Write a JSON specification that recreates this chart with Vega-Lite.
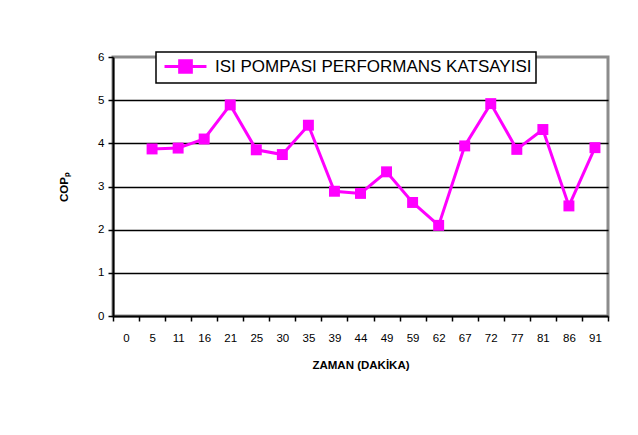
{
  "$schema": "https://vega.github.io/schema/vega-lite/v6.json",
  "width": 495,
  "height": 259,
  "autosize": {"type": "none"},
  "padding": {"left": 113, "top": 57, "right": 30, "bottom": 119},
  "background": "white",
  "config": {
    "font": "Liberation Sans",
    "view": {"stroke": "#8c8c8c", "strokeWidth": 3}
  },
  "data": {
    "values": [
      {"t": "5", "cop": 3.87, "s": "ISI POMPASI PERFORMANS KATSAYISI"},
      {"t": "11", "cop": 3.89, "s": "ISI POMPASI PERFORMANS KATSAYISI"},
      {"t": "16", "cop": 4.1, "s": "ISI POMPASI PERFORMANS KATSAYISI"},
      {"t": "21", "cop": 4.89, "s": "ISI POMPASI PERFORMANS KATSAYISI"},
      {"t": "25", "cop": 3.85, "s": "ISI POMPASI PERFORMANS KATSAYISI"},
      {"t": "30", "cop": 3.74, "s": "ISI POMPASI PERFORMANS KATSAYISI"},
      {"t": "35", "cop": 4.42, "s": "ISI POMPASI PERFORMANS KATSAYISI"},
      {"t": "39", "cop": 2.89, "s": "ISI POMPASI PERFORMANS KATSAYISI"},
      {"t": "44", "cop": 2.84, "s": "ISI POMPASI PERFORMANS KATSAYISI"},
      {"t": "49", "cop": 3.34, "s": "ISI POMPASI PERFORMANS KATSAYISI"},
      {"t": "59", "cop": 2.63, "s": "ISI POMPASI PERFORMANS KATSAYISI"},
      {"t": "62", "cop": 2.1, "s": "ISI POMPASI PERFORMANS KATSAYISI"},
      {"t": "67", "cop": 3.94, "s": "ISI POMPASI PERFORMANS KATSAYISI"},
      {"t": "72", "cop": 4.92, "s": "ISI POMPASI PERFORMANS KATSAYISI"},
      {"t": "77", "cop": 3.86, "s": "ISI POMPASI PERFORMANS KATSAYISI"},
      {"t": "81", "cop": 4.32, "s": "ISI POMPASI PERFORMANS KATSAYISI"},
      {"t": "86", "cop": 2.55, "s": "ISI POMPASI PERFORMANS KATSAYISI"},
      {"t": "91", "cop": 3.9, "s": "ISI POMPASI PERFORMANS KATSAYISI"}
    ]
  },
  "mark": {
    "type": "line",
    "strokeWidth": 3,
    "point": {"shape": "square", "size": 120, "filled": true, "opacity": 1}
  },
  "encoding": {
    "x": {
      "field": "t",
      "type": "ordinal",
      "bandPosition": 0.5,
      "scale": {
        "type": "band",
        "paddingInner": 0,
        "paddingOuter": 0,
        "domain": ["0", "5", "11", "16", "21", "25", "30", "35", "39", "44", "49", "59", "62", "67", "72", "77", "81", "86", "91"]
      },
      "axis": {
        "title": "ZAMAN (DAKİKA)",
        "titleFont": "Liberation Sans",
        "titleFontSize": 11.5,
        "titleFontWeight": "bold",
        "titleColor": "black",
        "titlePadding": 16,
        "labelAngle": 0,
        "labelFont": "Liberation Sans",
        "labelFontSize": 11.5,
        "labelColor": "black",
        "labelPadding": 11,
        "tickBand": "extent",
        "tickColor": "black",
        "tickSize": 5,
        "tickWidth": 1.5,
        "domainColor": "black",
        "domainWidth": 2,
        "grid": false
      }
    },
    "y": {
      "field": "cop",
      "type": "quantitative",
      "scale": {"domain": [0, 6], "nice": false, "zero": true},
      "axis": {
        "title": "COPₚ",
        "titleFont": "Liberation Sans",
        "titleFontSize": 11.5,
        "titleFontWeight": "bold",
        "titleColor": "black",
        "titlePadding": 28,
        "values": [0, 1, 2, 3, 4, 5, 6],
        "labelFont": "Liberation Sans",
        "labelFontSize": 11.5,
        "labelColor": "black",
        "labelPadding": 4,
        "tickColor": "black",
        "tickSize": 5,
        "tickWidth": 1.5,
        "domainColor": "black",
        "domainWidth": 2,
        "grid": true,
        "gridColor": "black",
        "gridWidth": 1.5,
        "gridOpacity": {"condition": {"test": "datum.value === 6 || datum.value === 0", "value": 0}, "value": 1}
      }
    },
    "color": {
      "field": "s",
      "type": "nominal",
      "scale": {"range": ["#FF00FF"]},
      "legend": {
        "title": null,
        "orient": "none",
        "legendX": 43,
        "legendY": -5,
        "strokeColor": "black",
        "fillColor": "white",
        "padding": 4,
        "labelFont": "Liberation Sans",
        "labelFontSize": 17,
        "labelColor": "black",
        "labelLimit": 600,
        "labelOffset": 19,
        "symbolOffset": 15,
        "symbolType": "M -2.33 0 L 2.33 0 M -0.65 -0.65 L 0.65 -0.65 L 0.65 0.65 L -0.65 0.65 Z",
        "symbolSize": 324,
        "symbolStrokeWidth": 3,
        "symbolFillColor": "#FF00FF",
        "symbolStrokeColor": "#FF00FF",
        "symbolOpacity": 1,
        "encode": {
          "legend": {
            "update": {
              "strokeWidth": {"value": 1.5}
            }
          },
          "symbols": {
            "update": {
              "fill": {"value": "#FF00FF"},
              "stroke": {"value": "#FF00FF"},
              "strokeWidth": {"value": 3},
              "opacity": {"value": 1}
            }
          }
        }
      }
    }
  }
}
